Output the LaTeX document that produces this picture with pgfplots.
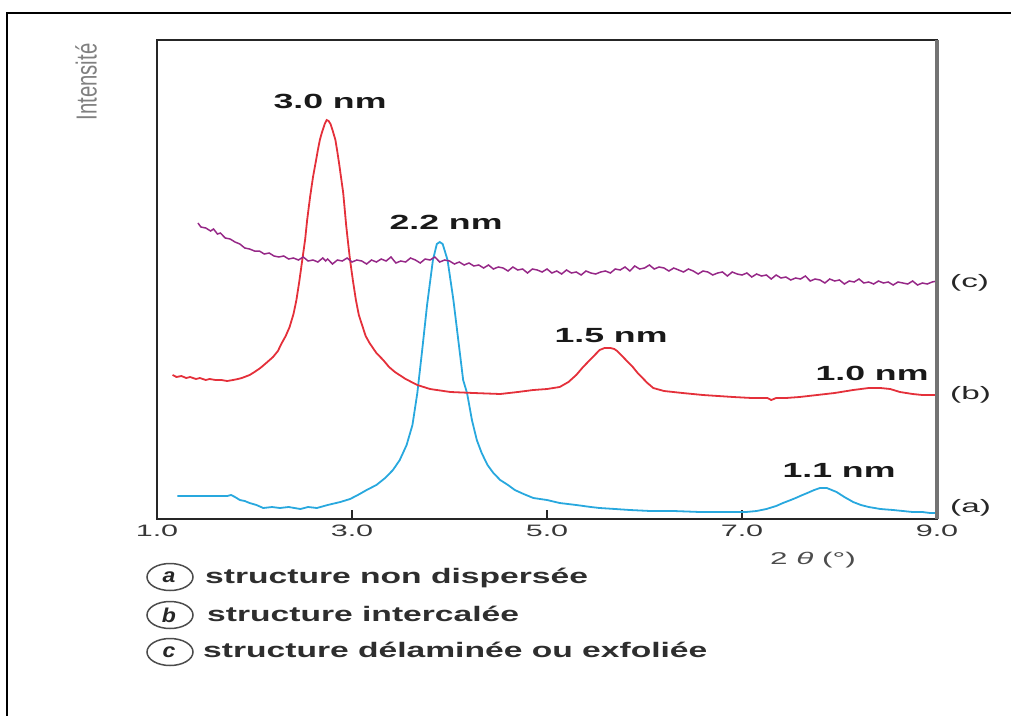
\documentclass[border=0pt]{standalone}
\usepackage{fontspec}
\setmainfont{Liberation Sans}
\newfontfamily\tickfont[FakeStretch=1.85]{Liberation Sans}
\newfontfamily\nmfont[FakeStretch=1.74]{Liberation Sans}
\newfontfamily\legfont[FakeStretch=1.6]{Liberation Sans}
\newfontfamily\circfont[FakeStretch=1.15]{Liberation Sans}
\newfontfamily\intfont[FakeStretch=0.7]{Liberation Sans}
\usepackage{pgfplots}
\pgfplotsset{compat=1.18}
\definecolor{cA}{RGB}{40,168,222}
\definecolor{cB}{RGB}{228,48,58}
\definecolor{cC}{RGB}{150,40,135}

\pgfplotstableread{
x v
1.21 23
1.50 23
1.72 23
1.76 24
1.80 22
1.85 19
1.90 18
1.95 16
2.02 14
2.09 11
2.18 12
2.26 11
2.35 12
2.47 10
2.55 12
2.64 11
2.75 14
2.88 17
2.98 20
3.06 24
3.15 29
3.25 34
3.34 41
3.42 49
3.49 59
3.56 74
3.62 94
3.67 126
3.72 169
3.77 214
3.83 259
3.87 275
3.90 277
3.93 275
3.98 259
4.04 219
4.09 179
4.14 139
4.18 126
4.23 99
4.28 79
4.33 66
4.39 54
4.45 46
4.52 39
4.60 34
4.67 29
4.76 25
4.86 21
5.00 19
5.13 16
5.30 14
5.45 12
5.54 11
5.70 10
5.85 9
6.06 8
6.30 8
6.57 7
6.80 7
7.04 7
7.15 8
7.25 10
7.35 13
7.42 16
7.50 19
7.55 21
7.62 24
7.67 26
7.74 29
7.80 31
7.87 31
7.92 29
7.97 27
8.05 22
8.14 17
8.22 14
8.30 12
8.42 10
8.55 9
8.65 8
8.75 7
8.85 7
8.93 6
9.00 6
}\curveA

\pgfplotstableread{
x v
1.16 144
1.20 142
1.25 143
1.30 141
1.34 142
1.40 140
1.44 141
1.50 139
1.54 140
1.60 139
1.66 139
1.72 138
1.78 139
1.83 140
1.87 141
1.95 144
2.00 147
2.06 151
2.12 156
2.19 162
2.24 168
2.28 176
2.32 183
2.36 192
2.40 205
2.43 219
2.46 238
2.49 259
2.52 280
2.54 299
2.57 322
2.60 342
2.63 358
2.65 369
2.67 379
2.69 386
2.72 395
2.74 399
2.76 398
2.78 395
2.80 389
2.83 379
2.85 367
2.87 354
2.89 340
2.91 326
2.94 294
2.96 276
2.98 259
3.01 238
3.04 219
3.07 204
3.11 192
3.14 183
3.18 176
3.25 166
3.32 159
3.38 152
3.44 147
3.55 140
3.67 134
3.80 130
4.01 127
4.25 126
4.52 125
4.70 127
4.86 129
5.00 130
5.13 132
5.22 137
5.30 144
5.37 152
5.44 159
5.50 165
5.54 169
5.59 171
5.65 171
5.69 170
5.72 168
5.75 165
5.81 159
5.88 152
5.93 146
5.98 141
6.03 136
6.09 131
6.20 128
6.39 126
6.60 124
6.91 122
7.10 121
7.26 121
7.30 119
7.35 121
7.45 121
7.59 122
7.77 124
7.95 126
8.14 129
8.30 131
8.42 131
8.52 130
8.62 127
8.75 125
8.85 124
8.96 124
9.00 124
}\curveB

\pgfplotstableread{
x v
1.42 296
1.45 292
1.50 291
1.55 288
1.58 290
1.62 285
1.65 286
1.70 281
1.75 280
1.80 277
1.85 275
1.90 271
1.95 270
2.00 268
2.05 268
2.10 265
2.15 266
2.20 263
2.25 262
2.30 263
2.35 260
2.40 261
2.45 259
2.50 262
2.55 258
2.60 259
2.65 257
2.70 261
2.73 258
2.75 260
2.80 255
2.85 259
2.90 258
2.95 261
3.00 257
3.05 259
3.10 258
3.15 255
3.20 259
3.25 257
3.30 260
3.35 258
3.40 262
3.45 256
3.50 258
3.55 257
3.60 261
3.65 259
3.70 256
3.75 260
3.80 259
3.85 262
3.90 257
3.95 259
4.00 258
4.05 255
4.10 257
4.15 254
4.20 256
4.25 253
4.30 254
4.35 251
4.40 254
4.45 250
4.50 252
4.55 251
4.60 248
4.65 252
4.70 249
4.75 250
4.80 246
4.85 250
4.90 249
4.95 247
5.00 250
5.05 246
5.10 248
5.15 245
5.20 249
5.25 246
5.30 247
5.35 244
5.40 248
5.45 246
5.50 245
5.55 247
5.60 248
5.65 246
5.70 250
5.75 249
5.80 252
5.85 248
5.90 253
5.95 250
6.00 251
6.05 254
6.10 250
6.15 252
6.20 251
6.25 248
6.30 251
6.35 249
6.40 247
6.45 250
6.50 248
6.55 245
6.60 248
6.65 247
6.70 244
6.75 246
6.80 247
6.85 243
6.90 247
6.95 245
7.00 244
7.05 246
7.10 242
7.15 245
7.20 243
7.25 244
7.30 240
7.35 244
7.40 241
7.45 242
7.50 239
7.55 241
7.60 240
7.65 243
7.70 238
7.75 240
7.80 239
7.85 236
7.90 240
7.95 238
8.00 239
8.05 235
8.10 238
8.15 237
8.20 240
8.25 236
8.30 237
8.35 235
8.40 238
8.45 236
8.50 237
8.55 234
8.60 237
8.65 236
8.70 235
8.75 238
8.80 234
8.85 236
8.90 235
8.95 237
9.00 238
}\curveC

\begin{document}
\begin{tikzpicture}[x=1pt,y=-1pt]
\useasboundingbox (0,0) rectangle (1011,715);
\draw[black, line width=2.2pt] (7,740) -- (7,13) -- (1040,13);
\begin{axis}[
  at={(157pt,-519pt)}, anchor=south west,
  width=780pt, height=479pt, scale only axis,
  xmin=1, xmax=9, ymin=0, ymax=479,
  clip=false,
  axis line style={draw=black!85, line width=2pt},
  xtick={1,3,5,7,9},
  xticklabels={1.0,3.0,5.0,7.0,9.0},
  ytick=\empty,
  xtick pos=bottom,
  tick align=inside,
  major tick length=9pt,
  tick style={draw=black!85, line width=1.5pt},
  xticklabel style={font=\tickfont\fontsize{16.5}{16.5}\selectfont, text=black!78, yshift=-2pt},
  xlabel={2 {\itshape θ} (°)},
  xlabel style={at={(rel axis cs:0.841,0)}, anchor=center, yshift=-41pt,
    font=\tickfont\fontsize{17}{17}\selectfont, text=black!70},
]
\addplot[cA, line width=1.8pt] table[x=x, y=v] {\curveA};
\addplot[cB, line width=1.8pt] table[x=x, y=v] {\curveB};
\addplot[cC, line width=1.5pt] table[x=x, y=v] {\curveC};
\draw[black!55, line width=3.5pt] (axis cs:9,0) -- (axis cs:9,479);
\end{axis}

% peak labels
\begin{scope}[every node/.style={anchor=base, inner sep=0pt, text=black!90,
    font=\nmfont\bfseries\fontsize{20.5}{20.5}\selectfont}]
\node at (330,108.5) {3.0 nm};
\node at (446,229) {2.2 nm};
\node at (611,342) {1.5 nm};
\node at (872,380) {1.0 nm};
\node at (839,477) {1.1 nm};
\end{scope}

% curve tags
\begin{scope}[every node/.style={anchor=west, inner sep=0pt, text=black!85,
    font=\tickfont\fontsize{18}{18}\selectfont}]
\node at (950,283) {(c)};
\node at (950,395) {(b)};
\node at (950,508) {(a)};
\end{scope}

% y label
\node[rotate=90, inner sep=0pt, text=black!50, font=\intfont\fontsize{29}{29}\selectfont] at (86,82) {Intensité};

% legend
\begin{scope}[every node/.style={inner sep=0pt}]
\draw[black!70, line width=1.5pt] (170,577) ellipse (23pt and 13.5pt);
\draw[black!70, line width=1.5pt] (170,615) ellipse (23pt and 13.5pt);
\draw[black!70, line width=1.5pt] (170,652) ellipse (23pt and 13.5pt);
\node[text=black!85, font=\circfont\bfseries\itshape\fontsize{20}{20}\selectfont] at (169,577) {a};
\node[text=black!85, font=\circfont\bfseries\itshape\fontsize{20}{20}\selectfont] at (169,615) {b};
\node[text=black!85, font=\circfont\bfseries\itshape\fontsize{20}{20}\selectfont] at (169,652) {c};
\node[anchor=base west, text=black!82, font=\legfont\bfseries\fontsize{21}{21}\selectfont] at (205,583) {structure non dispersée};
\node[anchor=base west, text=black!82, font=\legfont\bfseries\fontsize{21}{21}\selectfont] at (207,621) {structure intercalée};
\node[anchor=base west, text=black!82, font=\legfont\bfseries\fontsize{21}{21}\selectfont] at (203,657) {structure délaminée ou exfoliée};
\end{scope}
\end{tikzpicture}
\end{document}
